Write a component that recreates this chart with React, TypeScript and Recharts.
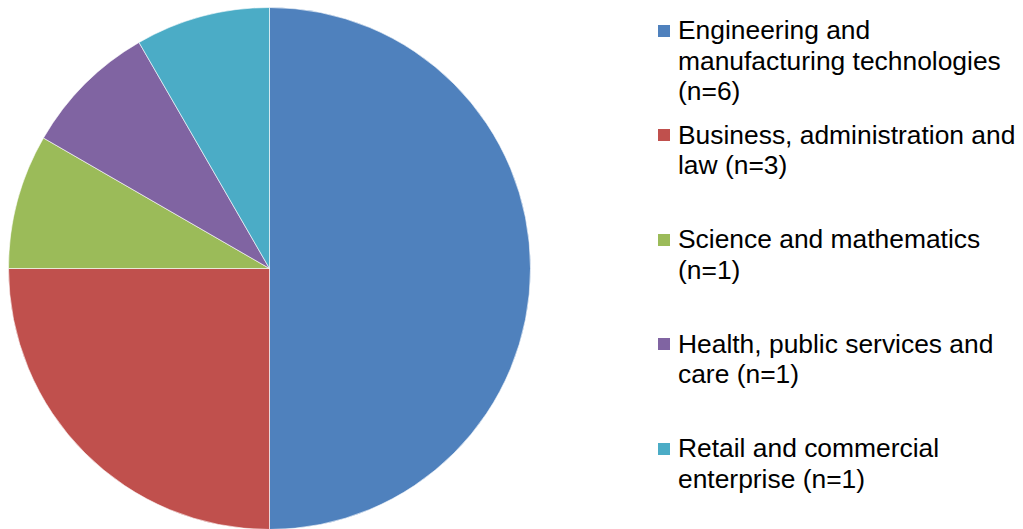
import { PieChart, Pie, Cell, Legend } from "recharts";

const categories = [
  "Engineering and manufacturing technologies (n=6)",
  "Business, administration and law (n=3)",
  "Science and mathematics (n=1)",
  "Health, public services and care (n=1)",
  "Retail and commercial enterprise (n=1)",
];
const counts = [6, 3, 1, 1, 1];
const colors = ["#4F81BD", "#C0504D", "#9BBB59", "#8064A2", "#4BACC6"];

const data = categories.map((name, i) => ({ name, value: counts[i] }));

function LegendBox() {
  return (
    <div style={{ fontFamily: "'Liberation Sans', Arial, sans-serif", fontSize: 26.4, color: "#000" }}>
      {categories.map((name, i) => (
        <div key={name} style={{ position: "relative", height: 104.5, paddingLeft: 20 }}>
          <span
            style={{
              position: "absolute",
              left: 0,
              top: 9.5,
              width: 12,
              height: 12,
              background: colors[i],
            }}
          />
          <div style={{ width: 345, lineHeight: "30.5px" }}>{name}</div>
        </div>
      ))}
    </div>
  );
}

export default function App() {
  return (
    <div style={{ position: "absolute", left: 0, top: 0, background: "#fff" }}>
      <PieChart width={1023} height={529} margin={{ top: 0, right: 0, bottom: 0, left: 0 }}>
        <Pie
          data={data}
          dataKey="value"
          nameKey="name"
          cx={269.5}
          cy={268.5}
          outerRadius={261}
          startAngle={90}
          endAngle={-270}
          stroke="#ffffff"
          strokeWidth={0.6}
          isAnimationActive={false}
        >
          {data.map((d, i) => (
            <Cell key={d.name} fill={colors[i]} />
          ))}
        </Pie>
        <Legend
          content={<LegendBox />}
          wrapperStyle={{ position: "absolute", left: 658, top: 15, width: 365 }}
        />
      </PieChart>
    </div>
  );
}
